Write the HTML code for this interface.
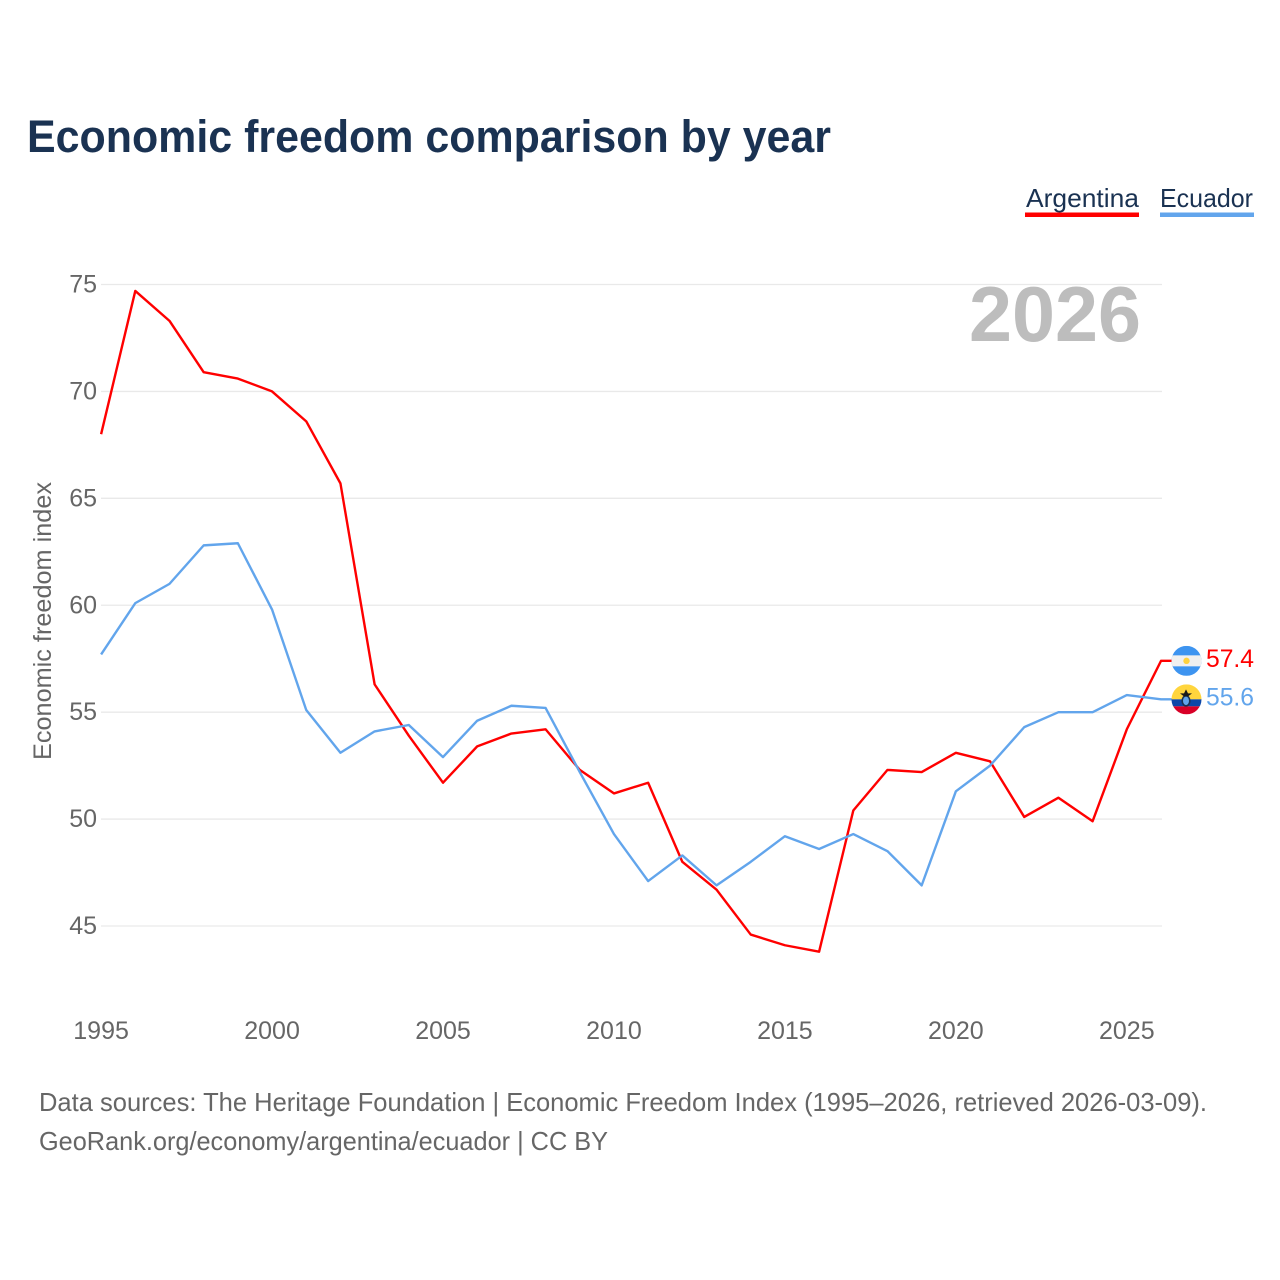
<!DOCTYPE html>
<html lang="en">
<head>
<meta charset="utf-8">
<title>Economic freedom comparison by year</title>
<style>
html,body{margin:0;padding:0;background:#fff;}
svg{display:block;font-family:"Liberation Sans",sans-serif;}
</style>
</head>
<body>
<svg id="chart" width="1280" height="1280" viewBox="0 0 1280 1280" xmlns="http://www.w3.org/2000/svg">
  <defs>
    <clipPath id="flag-clip"><circle cx="0" cy="0" r="15"></circle></clipPath>
  </defs>
  <rect width="1280" height="1280" fill="#ffffff"></rect>
  <text x="27" y="152" font-size="45" font-weight="700" fill="#1a3252" textLength="804" lengthAdjust="spacingAndGlyphs">Economic freedom comparison by year</text>

  <g>
    <text x="1026" y="207" font-size="26" fill="#1a3252" textLength="113" lengthAdjust="spacingAndGlyphs">Argentina</text>
    <rect x="1025" y="212.5" width="114" height="4.5" fill="#ff0000"></rect>
  </g>
  <g>
    <text x="1160" y="207" font-size="26" fill="#1a3252" textLength="93" lengthAdjust="spacingAndGlyphs">Ecuador</text>
    <rect x="1160" y="212.5" width="94" height="4.5" fill="#62a5ec"></rect>
  </g>

  <g id="grid"></g>
  <g id="y-ticks"></g>
  <g id="x-ticks"></g>

  <text transform="translate(51 621) rotate(-90)" text-anchor="middle" font-size="25" fill="#666666" textLength="278" lengthAdjust="spacingAndGlyphs">Economic freedom index</text>

  <text x="969" y="341" font-size="78" font-weight="700" fill="#bdbdbd" textLength="172" lengthAdjust="spacingAndGlyphs">2026</text>

  <g id="series"></g>

  <g id="flag-argentina">
    <g clip-path="url(#flag-clip)">
      <rect x="-15" y="-15" width="30" height="30" fill="#3d94f0"></rect>
      <rect x="-15" y="-5.5" width="30" height="11" fill="#f0f0f0"></rect>
      <circle cx="0" cy="0" r="3.2" fill="#ffd23f"></circle>
    </g>
  </g>
  <g id="flag-ecuador">
    <g clip-path="url(#flag-clip)">
      <rect x="-15" y="-15" width="30" height="15" fill="#ffd53d"></rect>
      <rect x="-15" y="0" width="30" height="7" fill="#0d47a8"></rect>
      <rect x="-15" y="7" width="30" height="8" fill="#d80027"></rect>
      <ellipse cx="-0.5" cy="1.5" rx="3.8" ry="5" fill="#62a5ec" stroke="#1a3252" stroke-width="1.6"></ellipse>
      <polygon points="-0.5,-10 1.5,-6 5.5,-6 1.5,-3 -2.5,-3 -6.5,-6 -2.5,-6" fill="#1a1a1a"></polygon>
    </g>
  </g>

  <text id="label-argentina" x="1206" font-size="25" fill="#ff0000" textLength="48" lengthAdjust="spacingAndGlyphs"></text>
  <text id="label-ecuador" x="1206" font-size="25" fill="#62a5ec" textLength="48" lengthAdjust="spacingAndGlyphs"></text>

  <text x="39" y="1111" font-size="26" fill="#666666" textLength="1168" lengthAdjust="spacingAndGlyphs">Data sources: The Heritage Foundation | Economic Freedom Index (1995–2026, retrieved 2026-03-09).</text>
  <a>
    <text x="39" y="1150" font-size="26" fill="#666666" textLength="569" lengthAdjust="spacingAndGlyphs">GeoRank.org/economy/argentina/ecuador | CC BY</text>
  </a>
</svg>
<script>
const years = [1995,1996,1997,1998,1999,2000,2001,2002,2003,2004,2005,2006,2007,2008,2009,2010,2011,2012,2013,2014,2015,2016,2017,2018,2019,2020,2021,2022,2023,2024,2025,2026];
const argentina = [68.0,74.7,73.3,70.9,70.6,70.0,68.6,65.7,56.3,53.9,51.7,53.4,54.0,54.2,52.3,51.2,51.7,48.0,46.7,44.6,44.1,43.8,50.4,52.3,52.2,53.1,52.7,50.1,51.0,49.9,54.2,57.4];
const ecuador = [57.7,60.1,61.0,62.8,62.9,59.8,55.1,53.1,54.1,54.4,52.9,54.6,55.3,55.2,52.2,49.3,47.1,48.3,46.9,48.0,49.2,48.6,49.3,48.5,46.9,51.3,52.5,54.3,55.0,55.0,55.8,55.6];
const yTicks = [45,50,55,60,65,70,75];
const xTicks = [1995,2000,2005,2010,2015,2020,2025];

const NS = 'http://www.w3.org/2000/svg';
function xScale(year) { return 101.1 + (year - 1995) * (1161 - 101.1) / 31; }
function yScale(v) { return 284.5 + (75 - v) * (926 - 284.5) / 30; }

const grid = document.getElementById('grid');
const yGroup = document.getElementById('y-ticks');
yTicks.forEach(function (t) {
  const line = document.createElementNS(NS, 'line');
  
  
  line.setAttribute('x1', 101);
  line.setAttribute('x2', 1162);
  line.setAttribute('y1', yScale(t));
  line.setAttribute('y2', yScale(t));
  line.setAttribute('stroke', '#e9e9e9');
  line.setAttribute('stroke-width', '1.3');
  grid.appendChild(line);

  const label = document.createElementNS(NS, 'text');
  
  
  label.setAttribute('x', 97);
  label.setAttribute('y', yScale(t) + 8);
  label.setAttribute('text-anchor', 'end');
  label.setAttribute('font-size', '25');
  label.setAttribute('fill', '#666666');
  label.textContent = t;
  yGroup.appendChild(label);
});

const xGroup = document.getElementById('x-ticks');
xTicks.forEach(function (t) {
  const label = document.createElementNS(NS, 'text');
  
  
  label.setAttribute('x', xScale(t));
  label.setAttribute('y', 1039);
  label.setAttribute('text-anchor', 'middle');
  label.setAttribute('font-size', '25');
  label.setAttribute('fill', '#666666');
  label.textContent = t;
  xGroup.appendChild(label);
});

function pathFor(values) {
  const points = values.map(function (v, i) {
    return (i ? 'L' : 'M') + xScale(years[i]).toFixed(2) + ' ' + yScale(v).toFixed(2);
  }).join(' ');
  return points + ' H1172';
}

const seriesGroup = document.getElementById('series');

const argentinaLine = document.createElementNS(NS, 'path');


argentinaLine.setAttribute('d', pathFor(argentina));
argentinaLine.setAttribute('fill', 'none');
argentinaLine.setAttribute('stroke', '#ff0000');
argentinaLine.setAttribute('stroke-width', '2.4');
argentinaLine.setAttribute('stroke-linejoin', 'round');
seriesGroup.appendChild(argentinaLine);

const ecuadorLine = document.createElementNS(NS, 'path');


ecuadorLine.setAttribute('d', pathFor(ecuador));
ecuadorLine.setAttribute('fill', 'none');
ecuadorLine.setAttribute('stroke', '#62a5ec');
ecuadorLine.setAttribute('stroke-width', '2.4');
ecuadorLine.setAttribute('stroke-linejoin', 'round');
seriesGroup.appendChild(ecuadorLine);

const aLast = argentina[argentina.length - 1];
const eLast = ecuador[ecuador.length - 1];
document.getElementById('flag-argentina').setAttribute('transform', 'translate(1186.5 ' + yScale(aLast) + ')');
document.getElementById('flag-ecuador').setAttribute('transform', 'translate(1186.5 ' + yScale(eLast) + ')');
const aLabel = document.getElementById('label-argentina');
aLabel.setAttribute('y', yScale(aLast) + 6);
aLabel.textContent = aLast.toFixed(1);
const eLabel = document.getElementById('label-ecuador');
eLabel.setAttribute('y', yScale(eLast) + 6);
eLabel.textContent = eLast.toFixed(1);
</script>
</body>
</html>
